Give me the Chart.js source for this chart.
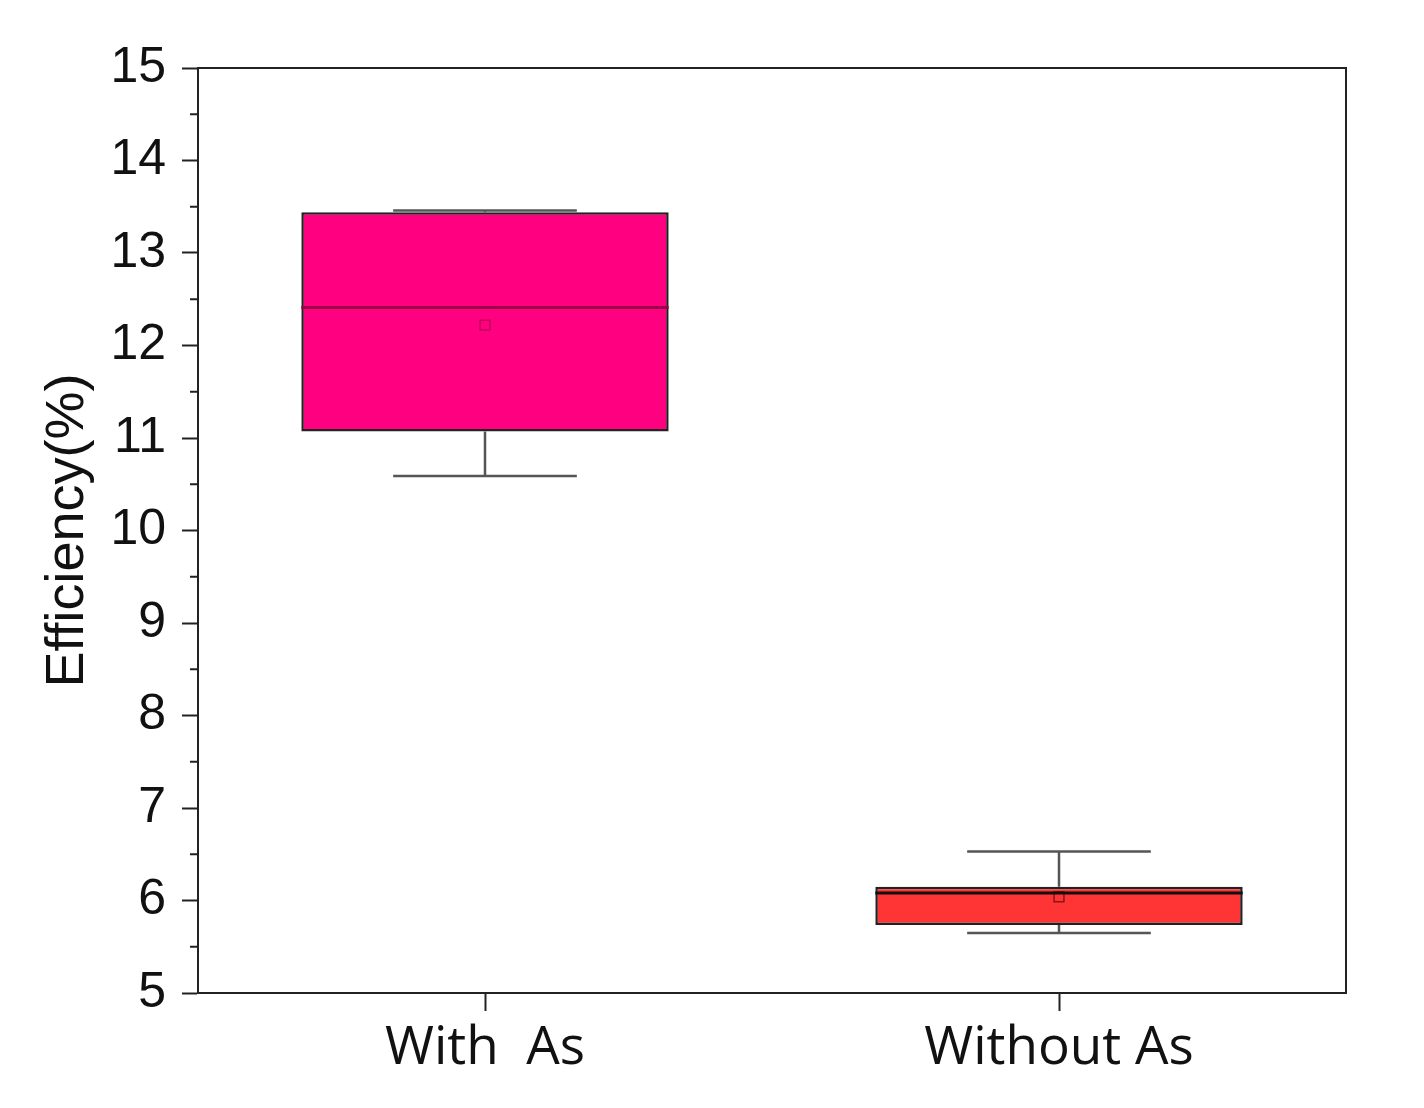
<!DOCTYPE html>
<html>
<head>
<meta charset="utf-8">
<script src="https://cdn.jsdelivr.net/npm/chart.js@4/dist/chart.umd.min.js"></script>
<style>
  body { margin: 0; background: #fff; }
  canvas { display: block; }
</style>
</head>
<body>
<canvas id="c" width="1424" height="1108"></canvas>
<script>
// box statistics
const categories = ['With  As', 'Without As'];
const q1Values = [11.07, 5.735];
const q3Values = [13.44, 6.15];
const medianValues = [12.41, 6.08];
const meanValues = [12.22, 6.04];
const minValues = [10.59, 5.65];
const maxValues = [13.46, 6.53];

const yMin = 5;
const yMax = 15;

const boxColors = ['#ff0080', '#ff3535'];
const medianColors = ['#9e0048', '#111'];
const meanColors = ['#c0005a', '#8a1515'];

// whiskers, caps, medians, frame and minor ticks
const boxExtras = {
  id: 'boxExtras',
  afterDatasetsDraw(chart) {
    const ctx = chart.ctx;
    const x = chart.scales.x;
    const y = chart.scales.y;
    const bars = chart.getDatasetMeta(1).data;
    ctx.save();
    categories.forEach((c, i) => {
      const cx = x.getPixelForValue(i);
      const w = bars[i].width;
      const cap = w / 4;
      ctx.strokeStyle = '#555';
      ctx.lineWidth = 2.5;
      ctx.beginPath();
      ctx.moveTo(cx, y.getPixelForValue(q3Values[i]));
      ctx.lineTo(cx, y.getPixelForValue(maxValues[i]));
      ctx.moveTo(cx - cap, y.getPixelForValue(maxValues[i]));
      ctx.lineTo(cx + cap, y.getPixelForValue(maxValues[i]));
      ctx.moveTo(cx, y.getPixelForValue(q1Values[i]));
      ctx.lineTo(cx, y.getPixelForValue(minValues[i]));
      ctx.moveTo(cx - cap, y.getPixelForValue(minValues[i]));
      ctx.lineTo(cx + cap, y.getPixelForValue(minValues[i]));
      ctx.stroke();
      // median
      ctx.strokeStyle = medianColors[i];
      ctx.lineWidth = 3;
      ctx.beginPath();
      ctx.moveTo(cx - w / 2, y.getPixelForValue(medianValues[i]));
      ctx.lineTo(cx + w / 2, y.getPixelForValue(medianValues[i]));
      ctx.stroke();
    });
    ctx.restore();
  },
  afterDraw(chart) {
    const ctx = chart.ctx;
    const a = chart.chartArea;
    const y = chart.scales.y;
    ctx.save();
    ctx.strokeStyle = '#222';
    ctx.lineWidth = 2;
    ctx.strokeRect(a.left, a.top, a.right - a.left, a.bottom - a.top);
    ctx.beginPath();
    for (let v = yMin + 0.5; v < yMax; v += 1) {
      const py = y.getPixelForValue(v);
      ctx.moveTo(a.left - 8, py);
      ctx.lineTo(a.left, py);
    }
    ctx.stroke();
    ctx.restore();
  }
};

new Chart(document.getElementById('c'), {
  data: {
    labels: categories,
    datasets: [
      {
        type: 'line',
        data: meanValues,
        showLine: false,
        pointStyle: 'rect',
        pointRadius: 7,
        pointBorderWidth: 1.5,
        pointBackgroundColor: 'rgba(0,0,0,0)',
        pointBorderColor: meanColors
      },
      {
        type: 'bar',
        data: q1Values.map((v, i) => [v, q3Values[i]]),
        backgroundColor: boxColors,
        borderColor: '#222',
        borderWidth: 2.5,
        borderSkipped: false,
        categoryPercentage: 1,
        barPercentage: 0.64
      }
    ]
  },
  options: {
    responsive: false,
    animation: false,
    layout: { padding: { top: 68, right: 78, left: 0, bottom: 0 } },
    plugins: { legend: { display: false }, tooltip: { enabled: false } },
    scales: {
      x: {
        offset: true,
        afterFit(s) { s.height = 115; },
        grid: { offset: false, drawOnChartArea: false, tickLength: 18, tickWidth: 2, tickColor: '#222' },
        border: { color: '#222', width: 2 },
        ticks: {
          color: '#111',
          padding: 6,
          font: { family: '"Open Sans", sans-serif', size: 53 }
        }
      },
      y: {
        min: yMin,
        max: yMax,
        afterFit(s) { s.width = 198; },
        grid: { drawOnChartArea: false, tickLength: 16, tickWidth: 2, tickColor: '#222' },
        border: { color: '#222', width: 2 },
        ticks: {
          stepSize: 1,
          color: '#111',
          padding: 16,
          font: { family: '"Liberation Sans", Arial, sans-serif', size: 50 }
        },
        title: {
          display: true,
          text: 'Efficiency(%)',
          color: '#111',
          padding: { top: 36, bottom: 0 },
          font: { family: '"Liberation Sans", Arial, sans-serif', size: 54 }
        }
      }
    }
  },
  plugins: [boxExtras]
});
</script>
</body>
</html>
